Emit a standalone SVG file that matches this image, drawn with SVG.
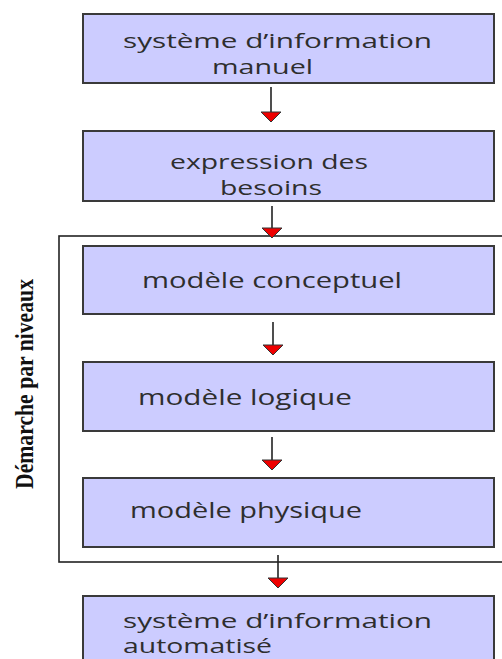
<svg xmlns="http://www.w3.org/2000/svg" width="502" height="659" viewBox="0 0 502 659">
<style>
.box{fill:#ccccff;stroke:#3a3a3a;stroke-width:2}
.t{font-family:"Open Sans","Noto Sans",sans-serif;font-size:22px;fill:#2e2e2e}
.t2{font-family:"Open Sans","Noto Sans",sans-serif;font-size:20px;fill:#2e2e2e}
.ln{stroke:#222;stroke-width:1.6}
.hd{fill:#ee0000;stroke:#333;stroke-width:1}
.frame{fill:none;stroke:#222;stroke-width:1.6}
.side{font-family:"Liberation Serif",serif;font-weight:bold;font-size:25px;fill:#111}
</style>
<rect width="502" height="659" fill="#fff"/>
<g id="frame">
<rect class="frame" x="59" y="236" width="446" height="326"/>
<text class="side" transform="translate(33,384) rotate(-90)" text-anchor="middle" textLength="210" lengthAdjust="spacingAndGlyphs">Démarche par niveaux</text>
</g>
<g id="n1">
<rect class="box" x="83" y="14" width="411" height="69"/>
<text class="t2" x="123" y="48" textLength="309" lengthAdjust="spacingAndGlyphs">système d’information</text>
<text class="t2" x="212" y="74" textLength="101" lengthAdjust="spacingAndGlyphs">manuel</text>
</g>
<g id="n2">
<rect class="box" x="83" y="131" width="411" height="70"/>
<text class="t2" x="170" y="169" textLength="198" lengthAdjust="spacingAndGlyphs">expression des</text>
<text class="t2" x="220" y="195" textLength="102" lengthAdjust="spacingAndGlyphs">besoins</text>
</g>
<g id="n3">
<rect class="box" x="83" y="246" width="411" height="68"/>
<text class="t" x="142" y="288" textLength="260" lengthAdjust="spacingAndGlyphs">modèle conceptuel</text>
</g>
<g id="n4">
<rect class="box" x="83" y="362" width="411" height="69"/>
<text class="t" x="138" y="405" textLength="214" lengthAdjust="spacingAndGlyphs">modèle logique</text>
</g>
<g id="n5">
<rect class="box" x="83" y="478" width="411" height="69"/>
<text class="t" x="130" y="518" textLength="232" lengthAdjust="spacingAndGlyphs">modèle physique</text>
</g>
<g id="n6">
<rect class="box" x="83" y="596" width="411" height="70"/>
<text class="t2" x="123" y="628" textLength="309" lengthAdjust="spacingAndGlyphs">système d’information</text>
<text class="t2" x="123" y="653" textLength="149" lengthAdjust="spacingAndGlyphs">automatisé</text>
</g>
<g id="connectors">
<line class="ln" x1="271" y1="87" x2="271" y2="113"/>
<path class="hd" d="M261,112 H281 L271,122 Z"/>
<line class="ln" x1="272" y1="206" x2="272" y2="229"/>
<path class="hd" d="M262,228 H282 L272,238 Z"/>
<line class="ln" x1="273" y1="322" x2="273" y2="346"/>
<path class="hd" d="M263,345 H283 L273,355 Z"/>
<line class="ln" x1="272" y1="437" x2="272" y2="461"/>
<path class="hd" d="M262,460 H282 L272,470 Z"/>
<line class="ln" x1="278" y1="555" x2="278" y2="579"/>
<path class="hd" d="M268,578 H288 L278,588 Z"/>
</g>
</svg>
